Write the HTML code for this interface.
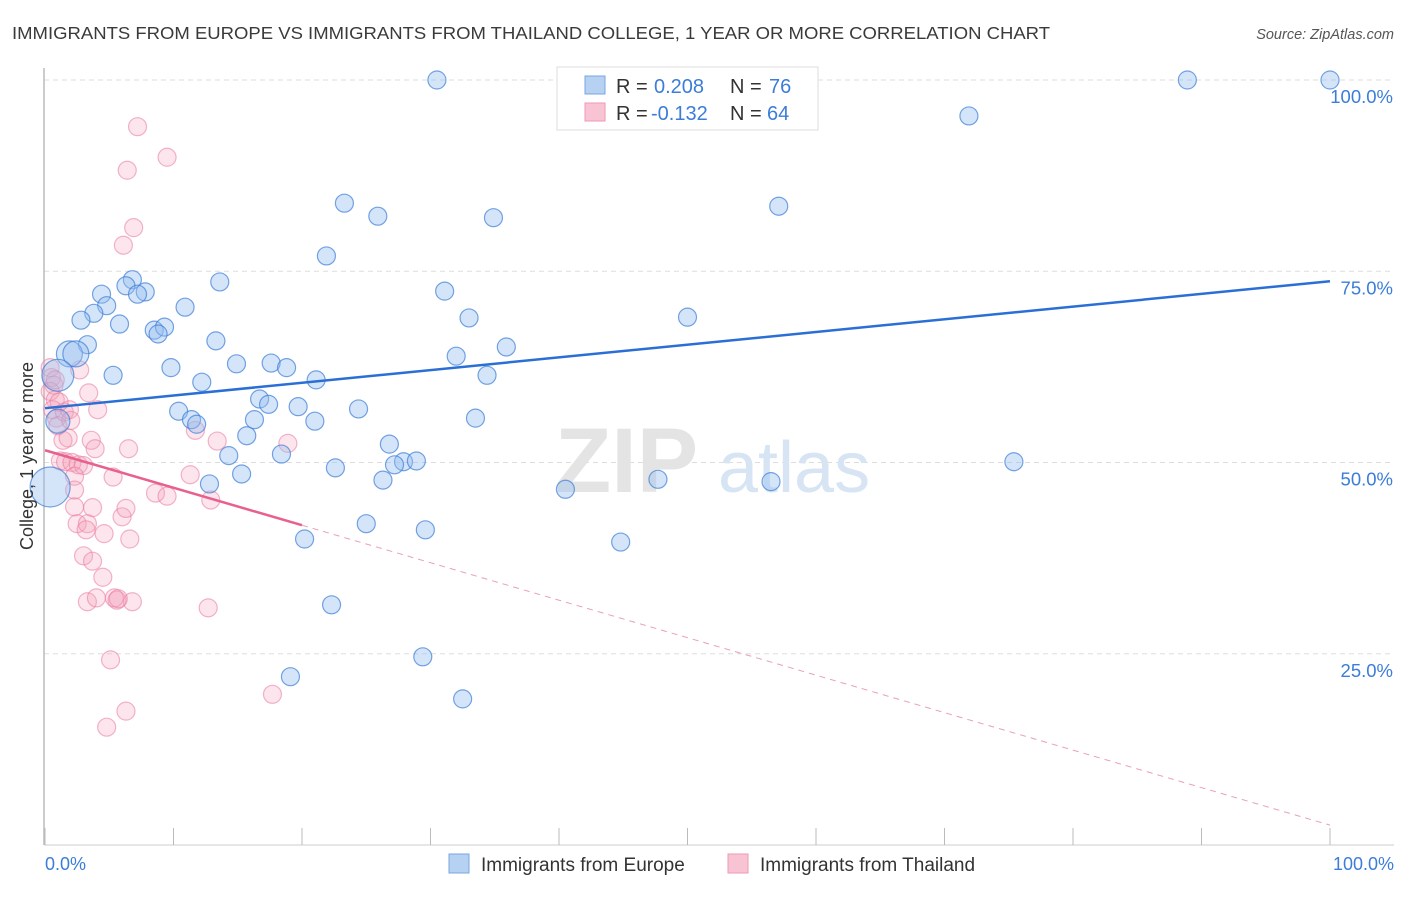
<!DOCTYPE html>
<html><head><meta charset="utf-8"><style>
body{margin:0;background:#fff;font-family:"Liberation Sans",sans-serif;}
svg text{font-family:"Liberation Sans",sans-serif;}
</style></head><body>
<svg id="chart" width="1406" height="892" viewBox="0 0 1406 892" xmlns="http://www.w3.org/2000/svg">
<text x="12" y="39" font-size="17.5" fill="#3a3a3a" textLength="1038" lengthAdjust="spacingAndGlyphs">IMMIGRANTS FROM EUROPE VS IMMIGRANTS FROM THAILAND COLLEGE, 1 YEAR OR MORE CORRELATION CHART</text>
<text x="1394" y="39" font-size="14.5" fill="#555" text-anchor="end" font-style="italic">Source: ZipAtlas.com</text>
<g id="grid"></g>
<text x="555" y="492" font-size="92" fill="#e4e4e4" font-family="Liberation Serif" font-weight="bold">ZIP</text>
<text x="718" y="492" font-size="72" fill="#d6e4f4">atlas</text>
<line x1="44" y1="68" x2="44" y2="845" stroke="#bbb" stroke-width="1.5"/>
<line x1="44" y1="845" x2="1394" y2="845" stroke="#ccc" stroke-width="1"/>
<g id="ticks"></g>
<g id="pts"></g>
<g id="trends"></g>
<text transform="translate(33,456) rotate(-90)" font-size="18" fill="#333" text-anchor="middle">College, 1 year or more</text>
<text x="45" y="870" font-size="18" fill="#3b7dd8">0.0%</text>
<text x="1394" y="870" font-size="18" fill="#3b7dd8" text-anchor="end">100.0%</text>
<g>
<rect x="557" y="67" width="261" height="63" fill="#fff" stroke="#ddd"/>
<rect x="585" y="76" width="20" height="18" fill="#b7d1f2" stroke="#7aa6e0"/>
<rect x="585" y="103" width="20" height="18" fill="#f8c4d4" stroke="#ee9ab5"/>
<text x="616" y="93" font-size="20" fill="#333">R =</text>
<text x="654" y="93" font-size="20" fill="#3b7dd8">0.208</text>
<text x="730" y="93" font-size="20" fill="#333">N =</text>
<text x="769" y="93" font-size="20" fill="#3b7dd8">76</text>
<text x="616" y="120" font-size="20" fill="#333">R =</text>
<text x="651" y="120" font-size="20" fill="#3b7dd8">-0.132</text>
<text x="730" y="120" font-size="20" fill="#333">N =</text>
<text x="767" y="120" font-size="20" fill="#3b7dd8">64</text>
</g>
<g>
<rect x="449" y="854" width="20" height="19" fill="#b7d1f2" stroke="#7aa6e0"/>
<text x="481" y="871" font-size="19" fill="#333">Immigrants from Europe</text>
<rect x="728" y="854" width="20" height="19" fill="#f8c4d4" stroke="#ee9ab5"/>
<text x="760" y="871" font-size="19" fill="#333">Immigrants from Thailand</text>
</g>
</svg>
<script>
const yTicks=[100,75,50,25];
const yTickLabels=["100.0%","75.0%","50.0%","25.0%"];
const xTicks=[0,10,20,30,40,50,60,70,80,90,100];
const europeX=[30.5,88.9,100,71.9,23.3,25.9,34.9,57.1,21.9,6.8,6.3,7.8,7.2,4.4,13.6,31.1,4.8,10.9,3.8,2.8,5.8,8.5,9.3,8.8,33.0,50.0,13.3,3.3,1.9,2.4,35.9,32.0,9.8,14.9,17.6,18.8,5.3,1.0,34.4,12.2,21.1,16.7,17.4,19.7,24.4,10.4,11.4,11.8,16.3,21.0,33.5,1.0,15.7,26.8,14.3,18.4,27.9,28.9,27.2,22.6,15.3,12.8,26.3,47.7,56.5,40.5,75.4,0.4,20.2,25.0,29.6,44.8,22.3,29.4,19.1,32.5];
const europeY=[100,100,100,95.3,83.9,82.2,82.0,83.5,77.0,73.9,73.1,72.3,72.0,72.0,73.6,72.4,70.5,70.3,69.5,68.6,68.1,67.3,67.7,66.8,68.9,69.0,65.9,65.4,64.2,64.2,65.1,63.9,62.4,62.9,63.0,62.4,61.4,61.4,61.4,60.5,60.8,58.3,57.6,57.3,57.0,56.7,55.6,55.0,55.6,55.4,55.8,55.4,53.5,52.4,50.9,51.1,50.1,50.2,49.7,49.3,48.5,47.2,47.7,47.8,47.5,46.5,50.1,46.8,40.0,42.0,41.2,39.6,31.4,24.6,22.0,19.1];
const europeR=[9,9,9,9,9,9,9,9,9,9,9,9,9,9,9,9,9,9,9,9,9,9,9,9,9,9,9,9,13,13,9,9,9,9,9,9,9,16,9,9,9,9,9,9,9,9,9,9,9,9,9,12,9,9,9,9,9,9,9,9,9,9,9,9,9,9,9,20,9,9,9,9,9,9,9,9];
const thaiX=[7.2,9.5,6.4,6.9,6.1,0.4,0.5,0.7,0.4,0.8,0.6,0.9,1.0,2.7,3.4,4.1,1.5,1.9,1.4,1.8,3.6,3.9,6.5,11.7,13.4,18.9,1.2,1.6,2.1,2.6,3.0,2.3,2.3,5.3,11.3,8.6,9.5,12.9,3.7,2.3,6.0,2.5,3.3,3.2,4.6,6.6,3.0,3.7,4.5,3.3,4.0,5.6,5.4,6.8,12.7,5.1,6.3,17.7,4.8,2.0,1.1,0.8,5.7,6.3];
const thaiY=[93.9,89.9,88.2,80.7,78.4,62.4,61.1,60.1,59.3,58.2,56.9,55.8,54.8,62.1,59.1,56.9,56.6,56.9,52.9,53.2,52.9,51.8,51.8,54.2,52.8,52.5,50.2,50.1,50.0,49.7,49.6,48.2,46.4,48.1,48.4,46.0,45.6,45.1,44.1,44.2,42.9,42.0,42.0,41.2,40.7,40.0,37.8,37.1,35.0,31.8,32.3,32.0,32.3,31.8,31.0,24.2,17.5,19.7,15.4,55.5,57.9,60.8,32.2,44.0];
const europeTrend=[57.1,73.7];
const thaiTrend=[51.6,41.8,2.6];
const thaiSolidEnd=20;
const NS='http://www.w3.org/2000/svg';
function xs(v){return 45+v*12.85;}
function ys(v){return 845-v*7.65;}
function mk(tag,attrs,parent){const e=document.createElementNS(NS,tag);for(const k in attrs)e.setAttribute(k,attrs[k]);parent.appendChild(e);return e;}
const grid=document.getElementById('grid');
yTicks.forEach((t,i)=>{
  const l=mk('line',{x1:44,x2:1394,y1:ys(t),y2:ys(t),stroke:'#ddd','stroke-dasharray':'5,4'},grid);
  
  
  const tx=mk('text',{x:1393,y:ys(t)+23,'font-size':18.5,fill:'#3b7dd8','text-anchor':'end'},grid);
  tx.textContent=yTickLabels[i];
  
  
});
const ticks=document.getElementById('ticks');
xTicks.forEach(t=>{
  const l=mk('line',{x1:xs(t),x2:xs(t),y1:828,y2:845,stroke:'#bbb'},ticks);
  
  
});
const pts=document.getElementById('pts');
thaiX.forEach((x,i)=>{
  const c=mk('circle',{cx:xs(x),cy:ys(thaiY[i]),r:9,fill:'rgba(244,160,188,0.28)',stroke:'rgba(234,120,158,0.55)','stroke-width':1.2},pts);
  
  
});
europeX.forEach((x,i)=>{
  const c=mk('circle',{cx:xs(x),cy:ys(europeY[i]),r:europeR[i],fill:'rgba(150,190,240,0.4)',stroke:'rgba(60,125,215,0.7)','stroke-width':1.2},pts);
  
  
});
const tr=document.getElementById('trends');
const bl=mk('line',{x1:xs(0),y1:ys(europeTrend[0]),x2:xs(100),y2:ys(europeTrend[1]),stroke:'#2a6fd6','stroke-width':2.5},tr);


const pl=mk('line',{x1:xs(0),y1:ys(thaiTrend[0]),x2:xs(thaiSolidEnd),y2:ys(thaiTrend[1]),stroke:'#e8608c','stroke-width':2.5},tr);


const pd=mk('line',{x1:xs(thaiSolidEnd),y1:ys(thaiTrend[1]),x2:xs(100),y2:ys(thaiTrend[2]),stroke:'#e8a0b8','stroke-width':1,'stroke-dasharray':'6,5'},tr);


</script>
</body></html>
